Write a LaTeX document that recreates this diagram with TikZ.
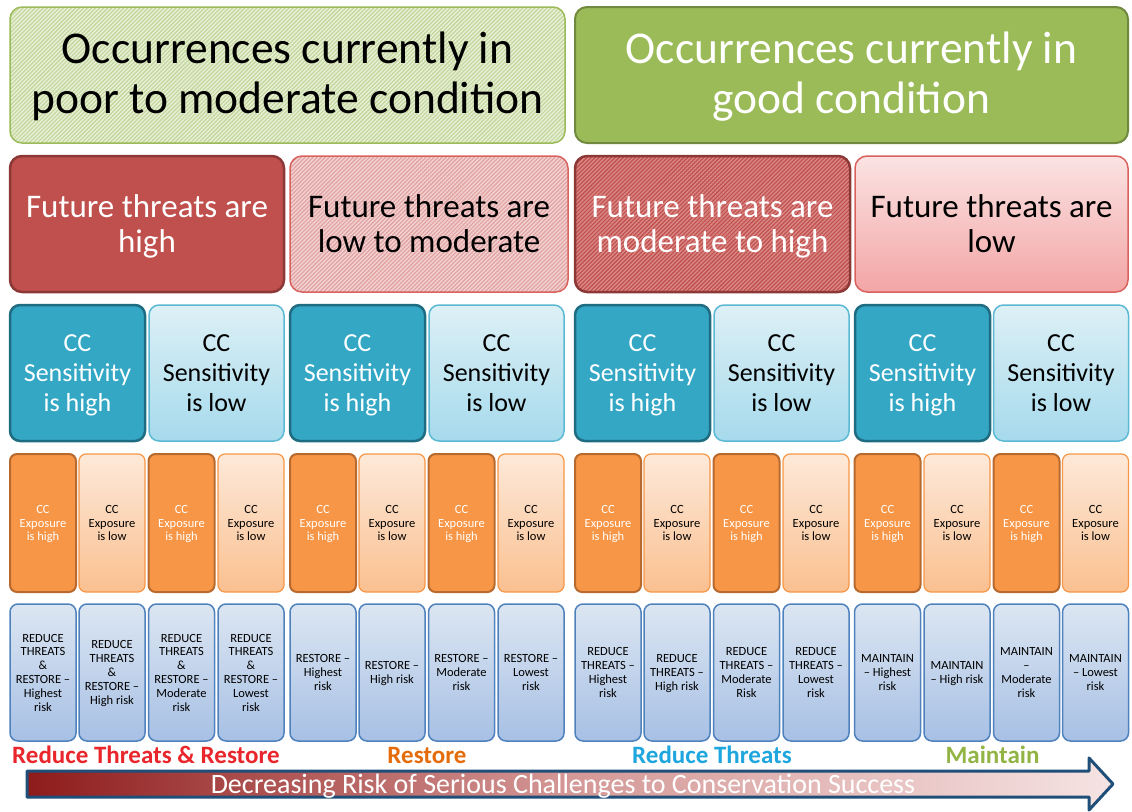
\documentclass[tikz,border=0pt]{standalone}
\usepackage{fontspec}
\setmainfont{Carlito}
\usetikzlibrary{patterns.meta}
\definecolor{hdpale}{HTML}{C3D69B}
\definecolor{hdstripe}{HTML}{E8F0D8}
\definecolor{hdgreen}{HTML}{9BBB59}
\definecolor{hdedge}{HTML}{71893F}
\definecolor{thred}{HTML}{C0504D}
\definecolor{thedge}{HTML}{8C3836}
\definecolor{thpale}{HTML}{E0A3A2}
\definecolor{thstripe}{HTML}{F3D2D2}
\definecolor{thrstripe}{HTML}{D98886}
\definecolor{thline}{HTML}{D9625F}
\definecolor{thtop}{HTML}{FBE3E3}
\definecolor{thbot}{HTML}{F3A5A5}
\definecolor{seteal}{HTML}{34A7C5}
\definecolor{seedge}{HTML}{1E6C82}
\definecolor{setop}{HTML}{DDF0F6}
\definecolor{sebot}{HTML}{A6DAEC}
\definecolor{seline}{HTML}{5CB9D4}
\definecolor{exorange}{HTML}{F79646}
\definecolor{exedge}{HTML}{B86A2E}
\definecolor{extop}{HTML}{FDE9D9}
\definecolor{exbot}{HTML}{FAC090}
\definecolor{actop}{HTML}{DCE6F2}
\definecolor{acbot}{HTML}{A7C0E4}
\definecolor{acedge}{HTML}{4F81BD}
\definecolor{lbred}{HTML}{E8262B}
\definecolor{lborange}{HTML}{E46C0A}
\definecolor{lbblue}{HTML}{1FA6DE}
\definecolor{lbgreen}{HTML}{92B444}
\definecolor{arrdark}{HTML}{8E1B1B}
\definecolor{arrmid}{HTML}{D49896}
\definecolor{arrlight}{HTML}{F6E3E3}
\definecolor{arredge}{HTML}{1F4E79}
\begin{document}
\begin{tikzpicture}[x=1pt,y=-1pt,line join=round,
	box/.style={rounded corners=#1,align=center,inner sep=1pt,text depth=0pt},
	hatch/.style={pattern={Lines[angle=45,distance=2.85pt,line width=1.4pt]},pattern color=#1},
	hdfont/.style={font=\fontsize{45.5}{50}\selectfont,text depth=4pt},
	thfont/.style={font=\fontsize{33}{35}\selectfont},
	sefont/.style={font=\fontsize{26}{30}\selectfont},
	smallfont/.style={font=\fontsize{12.5}{13.8}\selectfont},
	lbfont/.style={font=\bfseries\fontsize{25}{28}\selectfont}]
	\useasboundingbox (0,0) rectangle (1132,811);
	\node[box=12pt,hdfont,minimum width=555pt,minimum height=136pt,draw=hdgreen,line width=1.5pt,preaction={fill=hdpale},hatch=hdstripe] (hd1) at (287.5,75) {Occurrences currently in\\poor to moderate condition};
	\node[box=12pt,hdfont,minimum width=553pt,minimum height=136pt,draw=hdedge,line width=2pt,fill=hdgreen,text=white] (hd2) at (851.5,75) {Occurrences currently in\\good condition};
	\node[box=12pt,thfont,minimum width=274pt,minimum height=136pt,draw=thedge,line width=2.5pt,fill=thred,text=white] (th1) at (147,224) {Future threats are\\high};
	\node[box=12pt,thfont,minimum width=278pt,minimum height=136pt,draw=thline,line width=1.5pt,preaction={fill=thpale},hatch=thstripe] (th2) at (429,224) {Future threats are\\low to moderate};
	\node[box=12pt,thfont,minimum width=275pt,minimum height=136pt,draw=thedge,line width=2.5pt,preaction={fill=thred},hatch=thrstripe,text=white] (th3) at (712.5,224) {Future threats are\\moderate to high};
	\node[box=12pt,thfont,minimum width=273pt,minimum height=136pt,draw=thline,line width=1.5pt,top color=thtop,bottom color=thbot] (th4) at (991.5,224) {Future threats are\\low};
	\foreach \cx [count=\i] in {77.5,357.5,642.5,922.5}
		\node[box=10pt,sefont,minimum width=135pt,minimum height=136pt,draw=seedge,line width=2.5pt,fill=seteal,text=white] (seh\i) at (\cx,373) {CC\\Sensitivity\\is high};
	\foreach \cx [count=\i] in {216.5,496.5,781.5,1061}
		\node[box=10pt,sefont,minimum width=135pt,minimum height=136pt,draw=seline,line width=1.5pt,top color=setop,bottom color=sebot] (sel\i) at (\cx,373) {CC\\Sensitivity\\is low};
	\foreach \cx [count=\i] in {43,181.5,323,461.5,608,746.5,887.5,1026.5}
		\node[box=7pt,smallfont,minimum width=66pt,minimum height=138pt,draw=exedge,line width=2pt,fill=exorange,text=white] (exh\i) at (\cx,523) {CC\\Exposure\\is high};
	\foreach \cx [count=\i] in {112,251,392,531,677,816,957,1095.5}
		\node[box=7pt,smallfont,minimum width=66pt,minimum height=138pt,draw=exorange,line width=1.2pt,top color=extop,bottom color=exbot] (exl\i) at (\cx,523) {CC\\Exposure\\is low};
	\foreach \cx/\i/\txt in {43/1/{REDUCE\\THREATS\\\&\\RESTORE –\\Highest\\risk},
		112/2/{REDUCE\\THREATS\\\&\\RESTORE –\\High risk},
		181.5/3/{REDUCE\\THREATS\\\&\\RESTORE –\\Moderate\\risk},
		251/4/{REDUCE\\THREATS\\\&\\RESTORE –\\Lowest\\risk},
		323/5/{RESTORE –\\Highest\\risk},
		392/6/{RESTORE –\\High risk},
		461.5/7/{RESTORE –\\Moderate\\risk},
		531/8/{RESTORE –\\Lowest\\risk},
		608/9/{REDUCE\\THREATS –\\Highest\\risk},
		677/10/{REDUCE\\THREATS –\\High risk},
		746.5/11/{REDUCE\\THREATS –\\Moderate\\Risk},
		816/12/{REDUCE\\THREATS –\\Lowest\\risk},
		887.5/13/{MAINTAIN\\– Highest\\risk},
		957/14/{MAINTAIN\\– High risk},
		1026.5/15/{MAINTAIN\\–\\Moderate\\risk},
		1095.5/16/{MAINTAIN\\– Lowest\\risk}}
		\node[box=8pt,smallfont,minimum width=66pt,minimum height=137pt,draw=acedge,line width=1.5pt,top color=actop,bottom color=acbot] (ac\i) at (\cx,672.5) {\txt};
	\node[lbfont,text=lbred] (lb1) at (146,755) {Reduce Threats \& Restore};
	\node[lbfont,text=lborange] (lb2) at (427,755) {Restore};
	\node[lbfont,text=lbblue] (lb3) at (712,755) {Reduce Threats};
	\node[lbfont,text=lbgreen] (lb4) at (992.5,755) {Maintain};
	\draw[draw=arredge,line width=3pt,left color=arrdark,right color=arrlight,middle color=arrmid] (27,771) -- (1089,771) -- (1089,758) -- (1113,784) -- (1089,810) -- (1089,797) -- (27,797) -- cycle;
	\node[text=white,font=\fontsize{28}{30}\selectfont] (risk) at (563,786) {Decreasing Risk of Serious Challenges to Conservation Success};
\end{tikzpicture}
\end{document}
